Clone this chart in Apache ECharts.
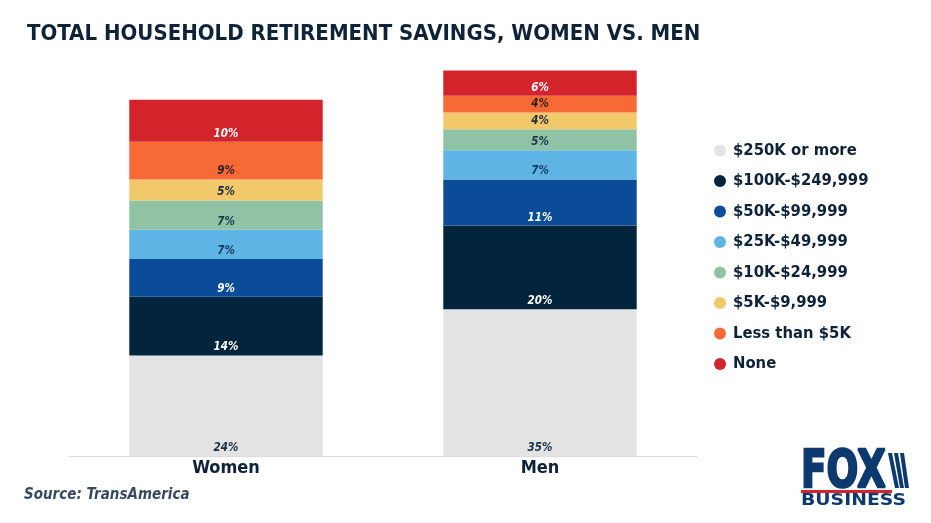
<!DOCTYPE html>
<html>
<head>
<meta charset="utf-8">
<script src="https://cdn.jsdelivr.net/npm/echarts@6/dist/echarts.min.js"></script>
<style>
html,body{margin:0;padding:0;background:#fff;}
#main{width:931px;height:523px;}
</style>
</head>
<body>
<div id="main"></div>
<script>
const categories = ['Women', 'Men'];
const seriesNames = ['$250K or more', '$100K-$249,999', '$50K-$99,999', '$25K-$49,999', '$10K-$24,999', '$5K-$9,999', 'Less than $5K', 'None'];
const v250kPlus = [24, 35];
const v100k = [14, 20];
const v50k = [9, 11];
const v25k = [7, 7];
const v10k = [7, 5];
const v5k = [5, 4];
const vLess5k = [9, 4];
const vNone = [10, 6];
const seriesValues = [v250kPlus, v100k, v50k, v25k, v10k, v5k, vLess5k, vNone];

const colors = ['#e3e3e3', '#03243d', '#0a4c97', '#5db4e5', '#90c3a6', '#f1c96b', '#f86a35', '#d3242b'];
const labelColors = ['#1c2f47', '#ffffff', '#ffffff', '#123a5e', '#16384a', '#1f2a33', '#2a1f1a', '#ffffff'];
const FONT = '"DejaVu Sans Condensed", "DejaVu Sans", sans-serif';
const NAVY = '#0e2238';
const LOGO = '#0c3a6e';

const chart = echarts.init(document.getElementById('main'), null, {renderer: 'canvas'});
chart.setOption({
  backgroundColor: '#ffffff',
  animation: false,
  title: {
    text: 'TOTAL HOUSEHOLD RETIREMENT SAVINGS, WOMEN VS. MEN',
    left: 22, top: 18,
    textStyle: {fontFamily: FONT, fontSize: 22, fontWeight: 'bold', color: NAVY}
  },
  legend: {
    orient: 'vertical',
    left: 709, top: 137,
    itemGap: 13.5,
    icon: 'circle',
    itemWidth: 12, itemHeight: 12,
    data: seriesNames,
    textStyle: {fontFamily: FONT, fontSize: 16.5, fontWeight: 'bold', color: NAVY, padding: [0,0,0,2]}
  },
  grid: {left: 69, right: 234, top: 37, bottom: 67, containLabel: false},
  xAxis: {
    type: 'category',
    data: categories,
    axisLine: {show: true, lineStyle: {color: '#dcdcdc', width: 1}},
    axisTick: {show: false},
    axisLabel: {fontFamily: FONT, fontSize: 18, fontWeight: 'bold', color: NAVY, margin: 3}
  },
  yAxis: {
    type: 'value', min: 0, max: 100,
    show: false,
    splitLine: {show: false}
  },
  series: seriesNames.map((name, i) => ({
    name: name,
    type: 'bar',
    stack: 'total',
    barWidth: '61.6%',
    data: seriesValues[i],
    itemStyle: {color: colors[i]},
    label: {
      show: true,
      position: 'insideBottom',
      distance: 2,
      formatter: '{c}%',
      fontFamily: FONT,
      fontSize: 11.5,
      fontStyle: 'italic',
      fontWeight: 'bold',
      color: labelColors[i]
    }
  })),
  graphic: [
    {type: 'text', left: 24, top: 488, style: {text: 'Source: TransAmerica', font: 'italic bold 15px ' + FONT, fill: '#3a4a5c'}},
    {type: 'text', x: 801, y: 473, scaleX: 0.72, style: {text: 'FOX', font: 'bold 52px "DejaVu Sans", sans-serif', fill: LOGO, stroke: LOGO, lineWidth: 2.5, verticalAlign: 'middle'}},
    {type: 'polygon', shape: {points: [[888,453],[892,453],[899,488],[895,488]]}, style: {fill: LOGO}},
    {type: 'polygon', shape: {points: [[894,453],[898,453],[904,488],[900,488]]}, style: {fill: LOGO}},
    {type: 'polygon', shape: {points: [[900,453],[904,453],[909,488],[905,488]]}, style: {fill: LOGO}},
    {type: 'rect', shape: {x: 801, y: 490, width: 91, height: 3}, style: {fill: '#d3242b'}},
    {type: 'text', x: 801, y: 501, scaleX: 1.14, style: {text: 'BUSINESS', font: 'bold 16.5px "DejaVu Sans", sans-serif', fill: LOGO, verticalAlign: 'middle'}}
  ]
});
</script>
</body>
</html>
